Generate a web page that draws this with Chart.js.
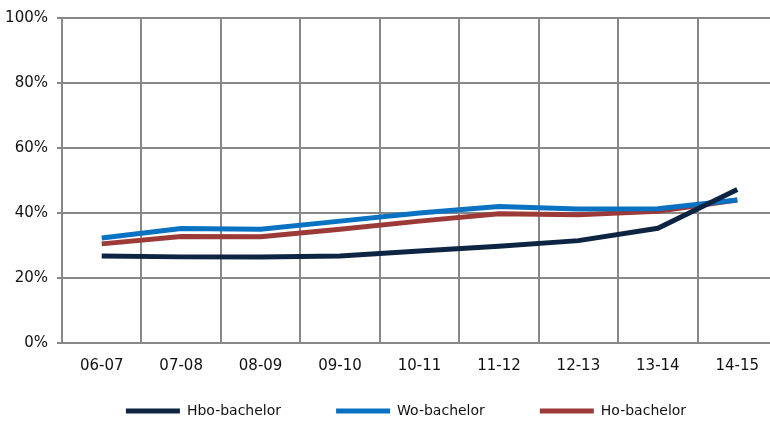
<!DOCTYPE html>
<html>
<head>
<meta charset="utf-8">
<script src="https://cdn.jsdelivr.net/npm/chart.js@4.4.1/dist/chart.umd.min.js"></script>
<style>
    html, body { margin: 0; padding: 0; background: #fff; overflow: hidden; }
    #wrap { position: relative; width: 777px; height: 423px; }
</style>
</head>
<body>
<div id="wrap"><canvas id="grafiek"></canvas></div>
<script>
// studiejaren
const jaren = ['06-07', '07-08', '08-09', '09-10', '10-11', '11-12', '12-13', '13-14', '14-15'];

const hboBachelor = [26.8, 26.5, 26.5, 26.8, 28.3, 29.8, 31.5, 35.3, 47.2];
const woBachelor  = [32.3, 35.2, 35.0, 37.5, 40.0, 42.0, 41.2, 41.3, 44.0];
const hoBachelor  = [30.5, 32.8, 32.7, 35.0, 37.5, 39.8, 39.5, 40.5, 44.0];

const yTicks = [0, 20, 40, 60, 80, 100];

const grijs = '#888888';
const fam = '"DejaVu Sans", sans-serif';

function lijn(label, data, kleur) {
    return {
        label: label,
        data: data,
        borderColor: kleur,
        backgroundColor: kleur,
        borderWidth: 5,
        pointRadius: 0,
        tension: 0,
        fill: false
    };
}

// legenda iets naar rechts en omlaag schuiven, zoals in het origineel
const legendaPlek = {
    id: 'legendaPlek',
    afterLayout(chart) {
        const lg = chart.legend;
        if (!lg) return;
        lg.left = 35;
        lg.top = 349;
    }
};

const ctx = document.getElementById('grafiek').getContext('2d');
const grafiek = new Chart(ctx, {
    type: 'line',
    data: {
        labels: jaren,
        datasets: [
            lijn('Hbo-bachelor', hboBachelor, '#0e2443'),
            lijn('Wo-bachelor', woBachelor, '#0a72c2'),
            lijn('Ho-bachelor', hoBachelor, '#9c3a38')
        ]
    },
    options: {
        responsive: true,
        maintainAspectRatio: false,
        animation: false,
        layout: { padding: { left: 0, right: 0, top: 17, bottom: 0 } },
        scales: {
            x: {
                offset: true,
                grid: { offset: true, color: grijs, lineWidth: 2, drawTicks: false },
                border: { color: grijs, width: 2 },
                ticks: { color: '#111', font: { family: fam, size: 15 }, padding: 14, maxRotation: 0 },
                afterFit: (s) => { s.height = 43; }
            },
            y: {
                min: 0,
                max: 100,
                afterBuildTicks: (s) => { s.ticks = yTicks.map(v => ({ value: v })); },
                grid: { color: grijs, lineWidth: 2, tickLength: 5 },
                border: { color: grijs, width: 2 },
                ticks: {
                    color: '#111',
                    font: { family: fam, size: 15 },
                    padding: 9,
                    callback: (v) => v + '%'
                },
                afterFit: (s) => { s.width = 62; }
            }
        },
        plugins: {
            legend: {
                position: 'bottom',
                maxHeight: 37,
                labels: {
                    color: '#111',
                    font: { family: fam, size: 14 },
                    boxWidth: 54,
                    boxHeight: 5,
                    padding: 55,
                    generateLabels: (chart) => {
                        const items = Chart.defaults.plugins.legend.labels.generateLabels(chart);
                        return items.map(it => Object.assign(it, { lineWidth: 0 }));
                    }
                }
            },
            tooltip: { enabled: false }
        }
    },
    plugins: [legendaPlek]
});
</script>
</body>
</html>
